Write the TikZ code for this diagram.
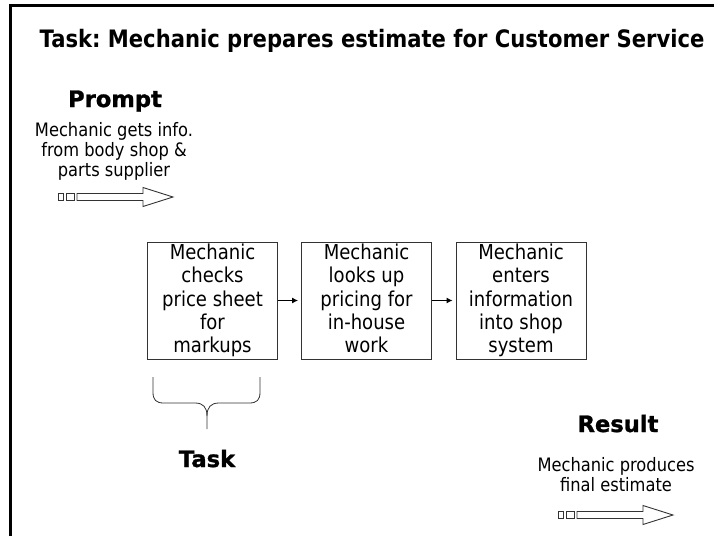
\documentclass[tikz,border=0pt]{standalone}
\usepackage{fontspec}
\setmainfont{DejaVu Sans}[FakeStretch=0.88]
\newfontfamily\headfont{DejaVu Sans Bold}[FakeBold=1.2]
\frenchspacing
\usepackage{tikz}
\usetikzlibrary{positioning}
\usetikzlibrary{arrows,arrows.meta,shapes}
\usetikzlibrary{calc}
\tikzstyle{stepbox}=[rectangle,draw=black!80,line width=0.8pt,minimum width=130pt,minimum height=117pt,inner sep=0pt,align=center,font=\fontsize{20.5}{23.2}\selectfont]
\tikzstyle{heading}=[inner sep=0pt,font=\headfont\fontsize{22.6}{26}\selectfont]
\tikzstyle{plain}=[inner sep=0pt,align=center,font=\fontsize{18.5}{20}\selectfont]
\tikzstyle{edge} = [draw,line width=1.2pt,-{Latex[length=6pt,width=6pt]},shorten >=3pt]
\tikzstyle{stripe} = [draw=black!80,line width=0.9pt,fill=white]
\tikzstyle{brace} = [draw=black!80,line width=0.8pt]

% striped arrow, tail at (#1,#2)
\newcommand{\stripedarrow}[2]{%
  \def\ax{#1}\def\ay{#2}
  \path[stripe] (\ax,\ay-3.5) rectangle (\ax+5,\ay+3.5);
  \path[stripe] (\ax+8,\ay-3.5) rectangle (\ax+16,\ay+3.5);
  \path[stripe] (\ax+19,\ay-3.5) -- (\ax+85,\ay-3.5) -- (\ax+85,\ay-9.5) -- (\ax+115,\ay)
     -- (\ax+85,\ay+9.5) -- (\ax+85,\ay+3.5) -- (\ax+19,\ay+3.5) -- cycle;
}

\begin{document}
\begin{tikzpicture}[x=1pt,y=-1pt]

    \useasboundingbox (0,0) rectangle (714,536);
    % frame
    \draw[line width=2.5pt] (10.7,536) -- (10.7,5.3) -- (714,5.3);

    % title
    \node[inner sep=0pt,anchor=base,font=\bfseries\fontsize{24}{28}\selectfont] (title) at (372,47)
        {Task: Mechanic prepares estimate for Customer Service};

    % prompt
    \node[heading,anchor=base] (prompthead) at (115,107) {Prompt};
    \node[plain,anchor=base] (prompttext) at (114,176) {Mechanic gets info.\\from body shop \&\\parts supplier};
    \stripedarrow{58}{197}

    % First we draw the steps
    \foreach \pos/\name/\label in {{(212.5,300.5)/check/{Mechanic\\checks\\price sheet\\for\\markups}},
        {(366.5,300.5)/lookup/{Mechanic\\looks up\\pricing for\\in-house\\work\vphantom{p}}},
        {(521,300.5)/enter/{Mechanic\\enters\\information\\into shop\\system}}}
        \node[stepbox] (\name) at \pos {\label};

    % Connect steps with edges
    \foreach \source/ \dest in {check/lookup, lookup/enter}
        \path[edge] (\source) -- (\dest);

    % brace under the first step
    \path[brace] (153,377) -- (153,392) .. controls (153,400) and (156,403) .. (164,403) -- (195,403)
        .. controls (203,403) and (207,407) .. (207,416) -- (207,429);
    \path[brace] (260,377) -- (260,392) .. controls (260,400) and (257,403) .. (249,403) -- (219,403)
        .. controls (211,403) and (207,407) .. (207,416);
    \node[heading,anchor=base] (taskhead) at (207,467) {Task};

    % result
    \node[heading,anchor=base] (resulthead) at (618,432) {Result};
    \node[plain,anchor=base] (resulttext) at (616,491) {Mechanic produces\\final estimate};
    \stripedarrow{558}{515}

\end{tikzpicture}
\end{document}
